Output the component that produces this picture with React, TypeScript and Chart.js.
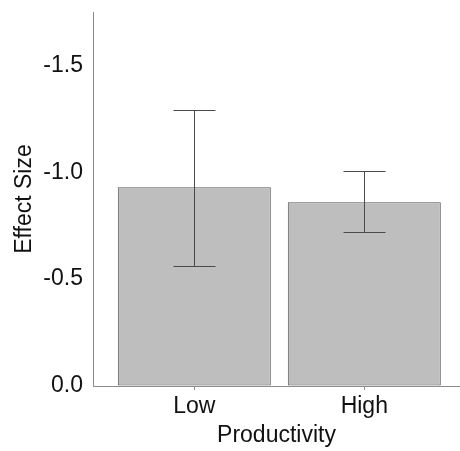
import React, { useEffect, useRef } from "react";
import { Chart, registerables } from "chart.js";

Chart.register(...registerables);

const categories = ["Low", "High"];
const effectSizes = [-0.93, -0.86];
const errorUpper = [-1.29, -1.005];
const errorLower = [-0.56, -0.72];
const yTicks = [0, -0.5, -1.0, -1.5];

const FONT = "'Liberation Sans', Arial, sans-serif";

const errorBarPlugin = {
  id: "errorBars",
  afterDatasetsDraw(chart: any) {
    const meta = chart.getDatasetMeta(0);
    const yScale = chart.scales.y;
    const ctx = chart.ctx;
    ctx.save();
    ctx.strokeStyle = "#4a4a4a";
    ctx.lineWidth = 1;
    meta.data.forEach((el: any, i: number) => {
      const x = Math.round(el.x) + 0.5;
      const yTop = Math.round(yScale.getPixelForValue(errorUpper[i])) + 0.5;
      const yBot = Math.round(yScale.getPixelForValue(errorLower[i])) + 0.5;
      const cap = 21;
      ctx.beginPath();
      ctx.moveTo(x, yTop);
      ctx.lineTo(x, yBot);
      ctx.moveTo(x - cap, yTop);
      ctx.lineTo(x + cap, yTop);
      ctx.moveTo(x - cap, yBot);
      ctx.lineTo(x + cap, yBot);
      ctx.stroke();
    });
    ctx.restore();
  },
};

export default function App() {
  const ref = useRef<HTMLCanvasElement>(null);
  useEffect(() => {
    document.body.style.margin = "0";
    const chart = new Chart(ref.current!, {
      type: "bar",
      data: {
        datasets: [
          {
            data: categories.map((c, i) => ({ x: i + 1, y: effectSizes[i] })),
            backgroundColor: "#bebebe",
            borderColor: "#555555",
            borderWidth: 1,
            borderSkipped: false,
            barPercentage: 0.9,
            categoryPercentage: 1,
          },
        ],
      },
      options: {
        animation: false,
        responsive: false,
        maintainAspectRatio: false,
        layout: { padding: { top: 12, right: 0, left: 0, bottom: 0 } },
        plugins: { legend: { display: false }, tooltip: { enabled: false } },
        scales: {
          x: {
            type: "linear",
            offset: false,
            bounds: "data",
            min: 0.404,
            max: 2.563,
            afterBuildTicks: (s: any) => {
              s.ticks = categories.map((_, i) => ({ value: i + 1 }));
            },
            afterFit: (s: any) => {
              s.height = 65;
              s.paddingLeft = 0;
              s.paddingRight = 0;
            },
            ticks: {
              callback: (v: any) => categories[Math.round(v) - 1] ?? "",
              font: { family: FONT, size: 23 },
              color: "#111111",
              padding: 3,
              maxRotation: 0,
              autoSkip: false,
            },
            grid: {
              display: true,
              offset: false,
              drawOnChartArea: false,
              drawTicks: true,
              tickLength: 4,
              color: "#8c8c8c",
            },
            border: { display: true, color: "#8c8c8c", width: 1 },
            title: {
              display: true,
              text: "Productivity",
              font: { family: FONT, size: 23 },
              color: "#111111",
              padding: { top: 0, bottom: 2 },
            },
          },
          y: {
            type: "linear",
            reverse: true,
            min: -1.75,
            max: 0,
            afterBuildTicks: (s: any) => {
              s.ticks = yTicks.map((v) => ({ value: v }));
            },
            afterFit: (s: any) => {
              s.width = 93;
              s.paddingTop = 0;
              s.paddingBottom = 0;
            },
            ticks: {
              callback: (v: any) => Number(v).toFixed(1),
              font: { family: FONT, size: 23 },
              color: "#111111",
              padding: 10,
            },
            grid: {
              display: true,
              drawOnChartArea: false,
              drawTicks: false,
              color: "#8c8c8c",
            },
            border: { display: true, color: "#8c8c8c", width: 1 },
            title: {
              display: true,
              text: "Effect Size",
              font: { family: FONT, size: 23 },
              color: "#111111",
              padding: { top: 11, bottom: 0 },
            },
          },
        },
      },
      plugins: [errorBarPlugin],
    } as any);
    return () => chart.destroy();
  }, []);
  return (
    <div style={{ width: 460, height: 451 }}>
      <canvas ref={ref} width={460} height={451} style={{ display: "block" }} />
    </div>
  );
}
